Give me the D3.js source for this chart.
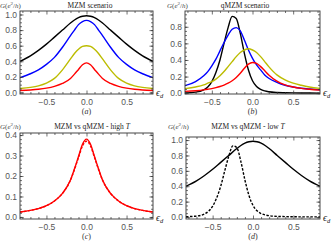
<!DOCTYPE html>
<html>
<head>
<meta charset="utf-8">
<script src="https://cdn.jsdelivr.net/npm/d3@7"></script>
<style>
  body { margin: 0; background: #fff; }
  svg { display: block; }
</style>
</head>
<body>
<svg id="chart" width="332" height="241"></svg>
<script>
// ---- data ----
const mzmX = [-0.83, -0.7, -0.6, -0.5, -0.4, -0.3, -0.2, -0.15, -0.1, -0.05, 0,
              0.05, 0.1, 0.15, 0.2, 0.3, 0.4, 0.5, 0.6, 0.7, 0.83];
const mzmBlack  = [0.40, 0.47, 0.54, 0.62, 0.71, 0.80, 0.89, 0.93, 0.96, 0.978, 0.985,
                   0.978, 0.96, 0.93, 0.89, 0.80, 0.71, 0.62, 0.54, 0.47, 0.40];
const mzmBlue   = [0.19, 0.24, 0.29, 0.36, 0.45, 0.58, 0.73, 0.80, 0.87, 0.91, 0.925,
                   0.91, 0.87, 0.80, 0.73, 0.58, 0.45, 0.36, 0.29, 0.24, 0.19];
const mzmYellow = [0.05, 0.065, 0.085, 0.12, 0.18, 0.29, 0.43, 0.50, 0.555, 0.59, 0.60,
                   0.59, 0.555, 0.50, 0.43, 0.29, 0.18, 0.12, 0.085, 0.065, 0.05];
const mzmRed    = [0.024, 0.032, 0.041, 0.055, 0.078, 0.115, 0.18, 0.235, 0.295, 0.355, 0.38,
                   0.355, 0.295, 0.235, 0.18, 0.115, 0.078, 0.055, 0.041, 0.032, 0.024];

const qmzmX = [-0.83, -0.7, -0.6, -0.55, -0.5, -0.45, -0.4, -0.35, -0.3, -0.25, -0.2, -0.15,
               -0.1, -0.05, 0, 0.05, 0.1, 0.15, 0.2, 0.3, 0.4, 0.5, 0.6, 0.7, 0.83];
const qmzmBlack  = [0.004, 0.012, 0.04, 0.075, 0.14, 0.25, 0.40, 0.60, 0.79, 0.925, 0.90, 0.72,
                    0.48, 0.28, 0.15, 0.08, 0.045, 0.027, 0.017, 0.008, 0.005, 0.003, 0.002, 0.002, 0.001];
const qmzmBlue   = [0.09, 0.14, 0.21, 0.26, 0.33, 0.41, 0.51, 0.61, 0.70, 0.77, 0.79, 0.75,
                    0.64, 0.52, 0.42, 0.34, 0.28, 0.22, 0.18, 0.13, 0.095, 0.075, 0.06, 0.05, 0.04];
const qmzmYellow = [0.055, 0.075, 0.10, 0.12, 0.14, 0.17, 0.21, 0.26, 0.32, 0.38, 0.44, 0.49,
                    0.52, 0.535, 0.52, 0.49, 0.44, 0.38, 0.32, 0.22, 0.16, 0.12, 0.095, 0.075, 0.058];
const qmzmRed    = [0.022, 0.03, 0.04, 0.047, 0.055, 0.066, 0.08, 0.098, 0.12, 0.15, 0.19, 0.24,
                    0.30, 0.35, 0.37, 0.36, 0.32, 0.27, 0.22, 0.145, 0.10, 0.075, 0.058, 0.047, 0.037];

// high T comparison (panel c)
const highTMzm  = mzmRed;
const highTQmzm = [0.024, 0.032, 0.041, 0.055, 0.078, 0.115, 0.18, 0.232, 0.29, 0.347, 0.37,
                   0.347, 0.29, 0.232, 0.18, 0.115, 0.078, 0.055, 0.041, 0.032, 0.024];

const xTicks = [-0.5, 0, 0.5];
const yTicksUnit = [0, 0.2, 0.4, 0.6, 0.8, 1.0];
const yTicksQ = [0, 0.2, 0.4, 0.6, 0.8];
const yTicksHigh = [0, 0.1, 0.2, 0.3, 0.4];

const titles = [
  [["MZM scenario", false]],
  [["qMZM scenario", false]],
  [["MZM vs qMZM - high ", false], ["T", true]],
  [["MZM vs qMZM - low ", false], ["T", true]]
];
const captions = ["a", "b", "c", "d"];

const BLACK = "#000", BLUE = "#0000ff", YELLOW = "#bcbc00", RED = "#ff0000";

const svg = d3.select("#chart");
const fmt = d3.format(".1f");

function drawPanel(p) {
  const g = svg.append("g");
  const x = d3.scaleLinear().domain([-0.83, 0.83]).range([p.left, p.right]);
  const y = d3.scaleLinear().domain(p.yDomain).range([p.bottom, p.top]);

  const clipId = "clip-" + p.caption;
  g.append("clipPath").attr("id", clipId).append("rect")
    .attr("x", p.left).attr("y", p.top)
    .attr("width", p.right - p.left).attr("height", p.bottom - p.top);

  const line = d3.line()
    .x(d => x(d[0]))
    .y(d => y(d[1]))
    .curve(d3.curveMonotoneX);

  p.series.forEach(s => {
    g.append("path")
      .attr("d", line(d3.zip(s.xs, s.ys)))
      .attr("fill", "none")
      .attr("stroke", s.color)
      .attr("stroke-width", 1.4)
      .attr("stroke-dasharray", s.dash || null)
      .attr("clip-path", `url(#${clipId})`);
  });

  // frame ticks, all pointing inward
  const xMinor = d3.range(-0.8, 0.81, 0.1).filter(v => Math.abs(v * 2 - Math.round(v * 2)) > 1e-6);
  const yMinor = d3.range(0, p.yDomain[1], p.yMinorStep);

  const axes = [
    [d3.axisBottom(x).tickValues(xTicks).tickSize(-3.5).tickPadding(4.5).tickFormat(fmt), p.bottom],
    [d3.axisBottom(x).tickValues(xMinor).tickSize(-2).tickFormat(""), p.bottom],
    [d3.axisTop(x).tickValues(xTicks).tickSize(-3.5).tickFormat(""), p.top],
    [d3.axisTop(x).tickValues(xMinor).tickSize(-2).tickFormat(""), p.top]
  ];
  axes.forEach(([ax, ty]) => {
    g.append("g").attr("transform", `translate(0,${ty})`).call(ax)
      .call(a => a.select(".domain").remove());
  });

  const yAxes = [
    [d3.axisLeft(y).tickValues(p.yTicks).tickSize(-3.5).tickPadding(3).tickFormat(fmt), p.left],
    [d3.axisLeft(y).tickValues(yMinor).tickSize(-2).tickFormat(""), p.left],
    [d3.axisRight(y).tickValues(p.yTicks).tickSize(-3.5).tickFormat(""), p.right],
    [d3.axisRight(y).tickValues(yMinor).tickSize(-2).tickFormat(""), p.right]
  ];
  yAxes.forEach(([ax, tx]) => {
    g.append("g").attr("transform", `translate(${tx},0)`).call(ax)
      .call(a => a.select(".domain").remove());
  });

  g.selectAll(".tick line").attr("stroke", "#333").attr("stroke-width", 0.7);
  g.selectAll(".tick text")
    .attr("fill", "#555")
    .attr("font-family", "'Liberation Sans', Arial, sans-serif")
    .attr("font-size", 8.5);

  g.append("rect")
    .attr("x", p.left).attr("y", p.top)
    .attr("width", p.right - p.left).attr("height", p.bottom - p.top)
    .attr("fill", "none").attr("stroke", "#333").attr("stroke-width", 0.9);

  // title
  const t = g.append("text")
    .attr("x", p.titleX).attr("y", p.titleY)
    .attr("text-anchor", "middle")
    .attr("font-family", "'Liberation Serif', serif")
    .attr("font-size", 7.5)
    .attr("fill", "#222");
  p.title.forEach(([txt, it]) => {
    t.append("tspan").attr("font-style", it ? "italic" : null).text(txt);
  });

  // y label G(e^2/h)
  const yl = g.append("text")
    .attr("x", p.yLabelX).attr("y", p.titleY)
    .attr("font-family", "'Liberation Serif', serif")
    .attr("font-size", 7)
    .attr("fill", "#444");
  yl.append("tspan").attr("font-style", "italic").text("G");
  yl.append("tspan").text("(");
  yl.append("tspan").attr("font-style", "italic").text("e");
  yl.append("tspan").attr("font-size", 5).attr("dy", -2.5).text("2");
  yl.append("tspan").attr("dy", 2.5).text("/");
  yl.append("tspan").attr("font-style", "italic").text("h");
  yl.append("tspan").text(")");

  // x label epsilon_d
  const xl = g.append("text")
    .attr("x", p.right + 3).attr("y", p.bottom + 2)
    .attr("font-family", "'Liberation Serif', serif")
    .attr("font-style", "italic")
    .attr("font-size", 10)
    .attr("fill", "#222");
  xl.append("tspan").text("ϵ");
  xl.append("tspan").attr("font-size", 6.5).attr("dy", 2).text("d");

  // sub caption
  const c = g.append("text")
    .attr("x", x(0)).attr("y", p.captionY)
    .attr("text-anchor", "middle")
    .attr("font-family", "'Liberation Serif', serif")
    .attr("font-size", 8)
    .attr("fill", "#333");
  c.append("tspan").text("(");
  c.append("tspan").attr("font-style", "italic").text(p.caption);
  c.append("tspan").text(")");
}

const panels = [
  {
    caption: captions[0], title: titles[0],
    left: 20, right: 153, top: 11, bottom: 94,
    yDomain: [-0.02, 1.045], yTicks: yTicksUnit, yMinorStep: 0.05,
    titleX: 90, titleY: 7.5, yLabelX: 0, captionY: 114,
    series: [
      { xs: mzmX, ys: mzmBlack, color: BLACK },
      { xs: mzmX, ys: mzmBlue, color: BLUE },
      { xs: mzmX, ys: mzmYellow, color: YELLOW },
      { xs: mzmX, ys: mzmRed, color: RED }
    ]
  },
  {
    caption: captions[1], title: titles[1],
    left: 185, right: 320, top: 11, bottom: 94,
    yDomain: [-0.01, 0.99], yTicks: yTicksQ, yMinorStep: 0.05,
    titleX: 245, titleY: 7.5, yLabelX: 167, captionY: 114,
    series: [
      { xs: qmzmX, ys: qmzmBlack, color: BLACK },
      { xs: qmzmX, ys: qmzmBlue, color: BLUE },
      { xs: qmzmX, ys: qmzmYellow, color: YELLOW },
      { xs: qmzmX, ys: qmzmRed, color: RED }
    ]
  },
  {
    caption: captions[2], title: titles[2],
    left: 20, right: 153, top: 133, bottom: 219,
    yDomain: [-0.01, 0.41], yTicks: yTicksHigh, yMinorStep: 0.02,
    titleX: 92, titleY: 128.5, yLabelX: 0, captionY: 239,
    series: [
      { xs: mzmX, ys: highTMzm, color: RED },
      { xs: mzmX, ys: highTQmzm, color: RED, dash: "2.5,1.5" }
    ]
  },
  {
    caption: captions[3], title: titles[3],
    left: 186, right: 320, top: 137, bottom: 219,
    yDomain: [-0.026, 1.04], yTicks: yTicksUnit, yMinorStep: 0.05,
    titleX: 248, titleY: 128.5, yLabelX: 168, captionY: 239,
    series: [
      { xs: mzmX, ys: mzmBlack, color: BLACK },
      { xs: qmzmX, ys: qmzmBlack, color: BLACK, dash: "2.5,1.5" }
    ]
  }
];

panels.forEach(drawPanel);
</script>
</body>
</html>
